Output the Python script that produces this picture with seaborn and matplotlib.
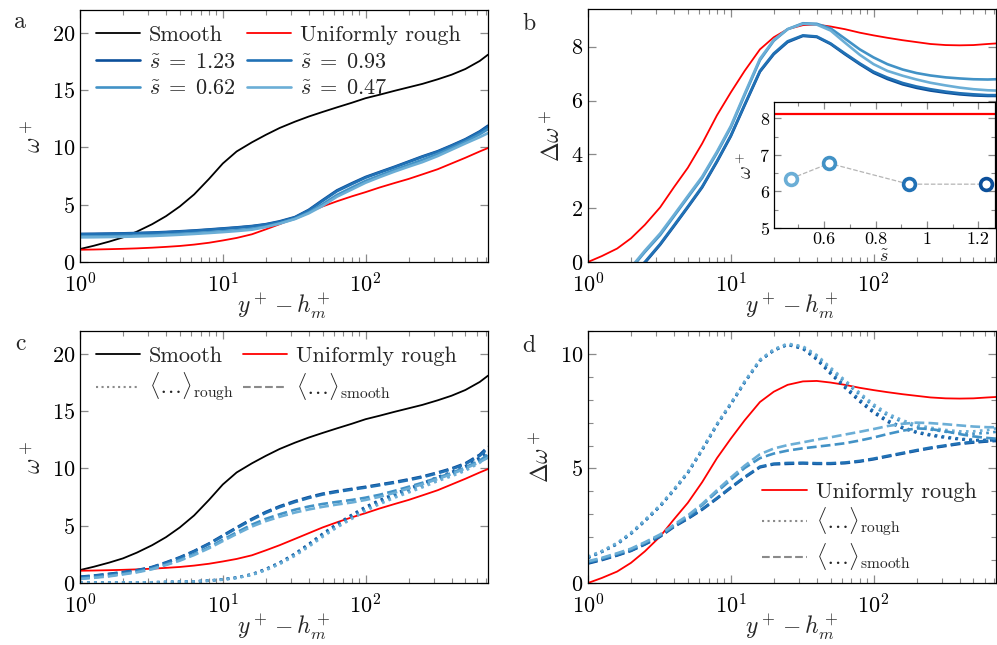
import matplotlib
matplotlib.use("Agg")
import matplotlib.pyplot as plt
import seaborn as sns
from matplotlib.lines import Line2D
from matplotlib.ticker import MultipleLocator, LogLocator, NullFormatter, FixedLocator

# ---------------- data ----------------
s_values = [1.23, 0.93, 0.62, 0.47]
s_labels = [r"$\tilde{s}\;=\;1.23$", r"$\tilde{s}\;=\;0.93$", r"$\tilde{s}\;=\;0.62$", r"$\tilde{s}\;=\;0.47$"]
s_colors = ["#0b4f9a", "#2171b5", "#4292c6", "#6baed6"]

# wall-normal positions y+ - h_m+
yp = [1, 1.25, 1.6, 2, 2.5, 3.2, 4, 5, 6.3, 8, 10, 12.5, 16, 20, 25, 32, 40, 50, 63, 80,
      100, 125, 160, 200, 250, 320, 400, 500, 630, 720]
yp_b = [2, 2.5, 3.2, 4, 5, 6.3, 8, 10, 12.5, 16, 20, 25, 32, 40, 50, 63, 80,
        100, 125, 160, 200, 250, 320, 400, 500, 630, 720]

# panel a / c : omega+ profiles
omega_smooth = [1.13, 1.42, 1.78, 2.15, 2.65, 3.3, 4.0, 4.85, 5.9, 7.25, 8.6, 9.65, 10.45, 11.1, 11.7, 12.25, 12.7, 13.1, 13.5, 13.9,
                14.3, 14.6, 14.95, 15.25, 15.55, 15.95, 16.35, 16.85, 17.55, 18.1]
omega_rough = [1.07, 1.09, 1.12, 1.15, 1.19, 1.25, 1.32, 1.4, 1.52, 1.68, 1.88, 2.1, 2.42, 2.85, 3.3, 3.85, 4.35, 4.85, 5.3, 5.73,
               6.1, 6.5, 6.9, 7.25, 7.65, 8.1, 8.6, 9.1, 9.65, 9.95]
omega_s123 = [2.45, 2.46, 2.48, 2.5, 2.53, 2.57, 2.62, 2.68, 2.75, 2.84, 2.93, 3.02, 3.14, 3.3, 3.55, 3.92, 4.55, 5.4, 6.25, 6.87,
              7.42, 7.85, 8.32, 8.77, 9.22, 9.67, 10.18, 10.72, 11.4, 11.9]
omega_s093 = [2.42, 2.43, 2.45, 2.47, 2.5, 2.54, 2.59, 2.65, 2.72, 2.81, 2.9, 2.99, 3.11, 3.27, 3.5, 3.88, 4.5, 5.33, 6.18, 6.8,
              7.36, 7.8, 8.27, 8.72, 9.17, 9.62, 10.13, 10.67, 11.33, 11.8]
omega_s062 = [2.22, 2.23, 2.25, 2.27, 2.3, 2.34, 2.39, 2.45, 2.52, 2.6, 2.68, 2.77, 2.9, 3.1, 3.38, 3.78, 4.33, 5.05, 5.85, 6.5,
              7.08, 7.55, 8.05, 8.48, 8.92, 9.43, 9.95, 10.5, 11.15, 11.6]
omega_s047 = [2.15, 2.16, 2.18, 2.2, 2.23, 2.27, 2.32, 2.38, 2.45, 2.53, 2.61, 2.7, 2.82, 3.05, 3.35, 3.75, 4.25, 4.9, 5.7, 6.33,
              6.92, 7.4, 7.9, 8.32, 8.72, 9.25, 9.8, 10.35, 10.9, 11.25]

# panel c : averages over smooth-wall and rough-wall regions
omega_smoothreg_s123 = [0.55, 0.65, 0.8, 0.95, 1.12, 1.4, 1.8, 2.25, 2.8, 3.45, 4.15, 4.85, 5.6, 6.2, 6.7, 7.15, 7.5, 7.8, 8.02, 8.22,
                        8.4, 8.6, 8.82, 9.05, 9.3, 9.65, 10.0, 10.45, 11.2, 11.9]
omega_smoothreg_s093 = [0.52, 0.62, 0.77, 0.92, 1.09, 1.37, 1.76, 2.2, 2.75, 3.4, 4.08, 4.78, 5.52, 6.12, 6.62, 7.07, 7.42, 7.72, 7.95, 8.15,
                        8.33, 8.53, 8.75, 8.98, 9.23, 9.58, 9.93, 10.38, 11.1, 11.75]
omega_smoothreg_s062 = [0.4, 0.5, 0.63, 0.8, 0.98, 1.25, 1.62, 2.02, 2.52, 3.12, 3.78, 4.42, 5.1, 5.6, 6.0, 6.4, 6.68, 6.9, 7.08, 7.25,
                        7.45, 7.7, 8.05, 8.4, 8.75, 9.2, 9.6, 10.1, 10.7, 11.2]
omega_smoothreg_s047 = [0.35, 0.45, 0.58, 0.75, 0.93, 1.2, 1.56, 1.95, 2.44, 3.03, 3.66, 4.28, 4.93, 5.4, 5.78, 6.15, 6.42, 6.65, 6.85, 7.03,
                        7.25, 7.52, 7.88, 8.25, 8.62, 9.08, 9.5, 10.0, 10.55, 10.95]
omega_roughreg_s123 = [0.02, 0.03, 0.03, 0.04, 0.05, 0.06, 0.08, 0.1, 0.14, 0.21, 0.32, 0.48, 0.77, 1.22, 1.78, 2.56, 3.4, 4.3, 5.15, 5.95,
                       6.65, 7.22, 7.8, 8.25, 8.7, 9.25, 9.68, 10.2, 10.95, 11.5]
omega_roughreg_s093 = [0.02, 0.03, 0.03, 0.04, 0.05, 0.06, 0.08, 0.1, 0.13, 0.21, 0.31, 0.46, 0.74, 1.19, 1.74, 2.5, 3.33, 4.22, 5.06, 5.85,
                       6.55, 7.12, 7.7, 8.15, 8.6, 9.15, 9.58, 10.08, 10.8, 11.35]
omega_roughreg_s062 = [0.02, 0.03, 0.03, 0.04, 0.05, 0.06, 0.08, 0.1, 0.13, 0.2, 0.3, 0.45, 0.72, 1.15, 1.69, 2.43, 3.24, 4.1, 4.93, 5.7,
                       6.4, 6.98, 7.55, 8.0, 8.45, 9.0, 9.43, 9.92, 10.62, 11.15]
omega_roughreg_s047 = [0.02, 0.03, 0.03, 0.04, 0.05, 0.06, 0.08, 0.1, 0.13, 0.2, 0.29, 0.44, 0.7, 1.12, 1.65, 2.38, 3.17, 4.03, 4.85, 5.6,
                       6.3, 6.88, 7.45, 7.9, 8.35, 8.9, 9.32, 9.8, 10.5, 11.0]

# panel b / d : Delta omega+
dw_rough = [0, 0.22, 0.5, 0.88, 1.38, 2.03, 2.78, 3.5, 4.4, 5.45, 6.3, 7.1, 7.9, 8.35, 8.65, 8.8, 8.82, 8.75, 8.65, 8.52,
            8.42, 8.33, 8.24, 8.17, 8.1, 8.06, 8.05, 8.06, 8.1, 8.12]
dw_s047 = [-0.2, 0.42, 1.06, 1.75, 2.45, 3.17, 4.1, 5.05, 6.25, 7.55, 8.25, 8.65, 8.85, 8.82, 8.6, 8.15, 7.7,
           7.35, 7.1, 6.92, 6.78, 6.66, 6.56, 6.48, 6.42, 6.38, 6.37]
dw_s062 = [-0.25, 0.37, 1.0, 1.7, 2.4, 3.12, 4.05, 5.0, 6.2, 7.5, 8.22, 8.65, 8.87, 8.85, 8.68, 8.3, 7.9,
           7.6, 7.35, 7.15, 7.02, 6.93, 6.86, 6.82, 6.79, 6.78, 6.79]
dw_s093 = [-0.5, 0.0, 0.67, 1.36, 2.06, 2.8, 3.75, 4.7, 5.85, 7.1, 7.75, 8.2, 8.42, 8.38, 8.12, 7.75, 7.38,
           7.07, 6.85, 6.65, 6.52, 6.42, 6.33, 6.27, 6.23, 6.2, 6.2]
dw_s123 = [-0.53, -0.03, 0.64, 1.33, 2.03, 2.77, 3.72, 4.67, 5.82, 7.07, 7.72, 8.17, 8.4, 8.36, 8.1, 7.72, 7.35,
           7.03, 6.8, 6.6, 6.47, 6.37, 6.29, 6.23, 6.19, 6.17, 6.17]

dw_roughreg_s047 = [1.15, 1.4, 1.75, 2.2, 2.75, 3.4, 4.1, 4.85, 5.85, 6.95, 7.85, 8.8, 9.75, 10.2, 10.45, 10.33, 9.95, 9.4, 8.85, 8.3,
                    7.8, 7.4, 7.1, 6.9, 6.78, 6.68, 6.62, 6.62, 6.68, 6.75]
dw_roughreg_s062 = [1.13, 1.38, 1.73, 2.18, 2.73, 3.38, 4.08, 4.83, 5.83, 6.93, 7.83, 8.78, 9.72, 10.18, 10.43, 10.3, 9.9, 9.33, 8.78, 8.22,
                    7.72, 7.32, 7.02, 6.82, 6.7, 6.6, 6.54, 6.52, 6.55, 6.6]
dw_roughreg_s093 = [1.1, 1.36, 1.7, 2.15, 2.7, 3.35, 4.05, 4.8, 5.8, 6.9, 7.8, 8.75, 9.7, 10.15, 10.4, 10.25, 9.8, 9.2, 8.6, 8.0,
                    7.5, 7.1, 6.8, 6.6, 6.48, 6.38, 6.3, 6.25, 6.25, 6.27]
dw_roughreg_s123 = [1.1, 1.36, 1.7, 2.15, 2.7, 3.35, 4.05, 4.8, 5.8, 6.9, 7.8, 8.75, 9.7, 10.15, 10.4, 10.22, 9.75, 9.13, 8.52, 7.92,
                    7.43, 7.04, 6.75, 6.56, 6.44, 6.34, 6.27, 6.23, 6.22, 6.24]
dw_smoothreg_s047 = [0.95, 1.1, 1.3, 1.5, 1.78, 2.12, 2.55, 2.95, 3.45, 4.05, 4.6, 5.12, 5.62, 5.87, 6.02, 6.14, 6.26, 6.36, 6.48, 6.6,
                     6.72, 6.85, 6.95, 7.0, 6.98, 6.93, 6.88, 6.83, 6.8, 6.8]
dw_smoothreg_s062 = [0.92, 1.07, 1.27, 1.47, 1.75, 2.08, 2.5, 2.9, 3.4, 3.98, 4.5, 5.02, 5.45, 5.65, 5.78, 5.88, 5.95, 6.02, 6.1, 6.22,
                     6.35, 6.5, 6.65, 6.75, 6.72, 6.62, 6.5, 6.4, 6.33, 6.3]
dw_smoothreg_s093 = [0.88, 1.03, 1.22, 1.42, 1.7, 2.05, 2.48, 2.83, 3.23, 3.71, 4.18, 4.63, 5.08, 5.21, 5.24, 5.25, 5.23, 5.23, 5.26, 5.33,
                     5.43, 5.55, 5.68, 5.8, 5.91, 6.01, 6.1, 6.16, 6.21, 6.23]
dw_smoothreg_s123 = [0.85, 1.0, 1.2, 1.4, 1.68, 2.02, 2.45, 2.8, 3.2, 3.68, 4.15, 4.6, 5.05, 5.18, 5.2, 5.22, 5.2, 5.2, 5.23, 5.3,
                     5.4, 5.52, 5.65, 5.77, 5.88, 5.98, 6.07, 6.13, 6.18, 6.2]

# inset : outer-region Delta omega+ vs s
inset_s = [0.47, 0.62, 0.93, 1.23]
inset_dw = [6.35, 6.77, 6.2, 6.2]
inset_colors = ["#6baed6", "#4292c6", "#2171b5", "#0b4f9a"]
inset_rough_level = 8.12

# ---------------- style ----------------
sns.set_theme(style="ticks")
plt.rcParams.update({
    "font.family": "serif",
    "font.serif": ["cmr10"],
    "mathtext.fontset": "cm",
    "axes.formatter.use_mathtext": True,
    "axes.unicode_minus": False,
    "axes.edgecolor": "black",
    "axes.linewidth": 0.9,
    "font.size": 16,
})

W, H = 997, 645
fig = plt.figure(figsize=(W / 100, H / 100), dpi=100)


def box(l, t, r, b):
    return [l / W, 1 - b / H, (r - l) / W, (b - t) / H]


ax_a = fig.add_axes(box(80, 10, 488, 262))
ax_b = fig.add_axes(box(588, 9, 996, 262))
ax_c = fig.add_axes(box(80, 331, 488, 583))
ax_d = fig.add_axes(box(588, 331, 996, 583))
ax_in = fig.add_axes(box(774, 102, 995, 228))


def line(ax, x, y, color, ls="-", lw=1.4):
    sns.lineplot(x=x, y=y, ax=ax, color=color, linestyle=ls, linewidth=lw,
                 estimator=None, sort=False, legend=False)


def style_log(ax, ylim, ymaj, ymin=None):
    ax.set_xscale("log")
    ax.set_xlim(1, 720)
    ax.set_ylim(*ylim)
    ax.yaxis.set_major_locator(MultipleLocator(ymaj))
    if ymin:
        ax.yaxis.set_minor_locator(MultipleLocator(ymin))
    else:
        ax.yaxis.set_minor_locator(FixedLocator([]))
    ax.xaxis.set_major_locator(LogLocator(base=10, numticks=10))
    ax.xaxis.set_minor_locator(LogLocator(base=10, subs=range(2, 10), numticks=20))
    ax.xaxis.set_minor_formatter(NullFormatter())
    ax.tick_params(which="both", direction="in", top=True, right=True,
                   color="#8a8a8a", labelsize=16, labelcolor="black")
    ax.tick_params(which="major", length=6, width=0.9)
    ax.tick_params(which="minor", length=3.5, width=0.8)
    ax.tick_params(axis="x", which="major", pad=7.5)
    ax.set_xlabel(r"$y^+ - h_m^+$", fontsize=17, labelpad=-4)
    for sp in ax.spines.values():
        sp.set_visible(True)
        sp.set_color("black")


leg_kw = dict(frameon=False, fontsize=16, handlelength=2.0, handletextpad=0.4)

# ---- panel a ----
line(ax_a, yp, omega_smooth, "black", lw=1.3)
line(ax_a, yp, omega_rough, "red", lw=1.3)
for arr, c in zip([omega_s123, omega_s093, omega_s062, omega_s047], s_colors):
    line(ax_a, yp, arr, c, lw=1.9)
style_log(ax_a, (0, 22), 5)
ax_a.set_ylabel(r"$\omega^+$", fontsize=17)

h_smooth = Line2D([], [], color="black", lw=1.3)
h_rough = Line2D([], [], color="red", lw=1.3)
h_s = [Line2D([], [], color=c, lw=1.9) for c in s_colors]
ax_a.legend([h_smooth, h_s[0], h_s[2], h_rough, h_s[1], h_s[3]],
            ["Smooth", s_labels[0], s_labels[2], "Uniformly rough", s_labels[1], s_labels[3]],
            ncol=2, loc="upper left", bbox_to_anchor=(0.0, 1.0), columnspacing=0.5,
            labelspacing=0.32, borderaxespad=0.3, **leg_kw)

# ---- panel b ----
line(ax_b, yp, dw_rough, "red", lw=1.3)
for arr, c in zip([dw_s123, dw_s093, dw_s062, dw_s047], s_colors):
    line(ax_b, yp_b, arr, c, lw=1.9)
style_log(ax_b, (0, 9.4), 2)
ax_b.set_ylabel(r"$\Delta\omega^+$", fontsize=17)

# ---- inset ----
sns.lineplot(x=inset_s, y=inset_dw, ax=ax_in, color="#b5b5b5", linestyle="--",
             linewidth=0.9, estimator=None, sort=False, legend=False)
ax_in.axhline(inset_rough_level, color="red", lw=1.6)
for sv, dv, c in zip(inset_s, inset_dw, inset_colors):
    sns.lineplot(x=[sv], y=[dv], ax=ax_in, marker="o", markersize=8.5,
                 markerfacecolor="white", markeredgecolor=c, markeredgewidth=2.6,
                 linestyle="", estimator=None, legend=False, color=c)
ax_in.set_xlim(0.405, 1.265)
ax_in.set_ylim(5, 8.45)
ax_in.xaxis.set_major_locator(FixedLocator([0.6, 0.8, 1.0, 1.2]))
ax_in.xaxis.set_minor_locator(MultipleLocator(0.1))
ax_in.yaxis.set_major_locator(MultipleLocator(1))
ax_in.yaxis.set_minor_locator(MultipleLocator(0.5))
ax_in.set_xticklabels(["0.6", "0.8", "1", "1.2"])
ax_in.tick_params(which="both", direction="in", top=True, right=True,
                  color="#8a8a8a", labelsize=13, labelcolor="black")
ax_in.tick_params(which="major", length=5, width=0.9, pad=3)
ax_in.tick_params(which="minor", length=3, width=0.8)
ax_in.set_xlabel(r"$\tilde{s}$", fontsize=13, labelpad=1)
ax_in.set_ylabel(r"$\omega^+$", fontsize=14, labelpad=2)
ax_in.set_facecolor("white")
for sp in ax_in.spines.values():
    sp.set_visible(True)
    sp.set_color("black")

# ---- panel c ----
line(ax_c, yp, omega_smooth, "black", lw=1.3)
line(ax_c, yp, omega_rough, "red", lw=1.3)
for arr, c in zip([omega_roughreg_s123, omega_roughreg_s093, omega_roughreg_s062, omega_roughreg_s047], s_colors):
    line(ax_c, yp, arr, c, ls=":", lw=1.9)
for arr, c in zip([omega_smoothreg_s123, omega_smoothreg_s093, omega_smoothreg_s062, omega_smoothreg_s047], s_colors):
    line(ax_c, yp, arr, c, ls="--", lw=1.9)
style_log(ax_c, (0, 22), 5)
ax_c.set_ylabel(r"$\omega^+$", fontsize=17)

lab_r = r"$\langle\ldots\rangle_{\mathrm{rough}}$"
lab_s = r"$\langle\ldots\rangle_{\mathrm{smooth}}$"
h_dot = Line2D([], [], color="#8a8a8a", lw=1.5, ls=":")
h_dash = Line2D([], [], color="#8a8a8a", lw=1.5, ls="--")
ax_c.legend([h_smooth, h_dot, h_rough, h_dash], ["Smooth", lab_r, "Uniformly rough", lab_s],
            ncol=2, loc="upper left", bbox_to_anchor=(0.0, 1.0), columnspacing=0.4,
            labelspacing=0.2, borderaxespad=0.3, **leg_kw)

# ---- panel d ----
line(ax_d, yp, dw_rough, "red", lw=1.3)
for arr, c in zip([dw_roughreg_s123, dw_roughreg_s093, dw_roughreg_s062, dw_roughreg_s047], s_colors):
    line(ax_d, yp, arr, c, ls=":", lw=1.9)
for arr, c in zip([dw_smoothreg_s123, dw_smoothreg_s093, dw_smoothreg_s062, dw_smoothreg_s047], s_colors):
    line(ax_d, yp, arr, c, ls="--", lw=1.9)
style_log(ax_d, (0, 11), 5, 1)
ax_d.set_ylabel(r"$\Delta\omega^+$", fontsize=17)
ax_d.legend([h_rough, h_dot, h_dash], ["Uniformly rough", lab_r, lab_s],
            loc="lower right", bbox_to_anchor=(0.985, -0.01), labelspacing=0.15,
            borderaxespad=0.2, **leg_kw)

# panel letters
for txt, (px, py) in zip("abcd", [(20, 22), (529, 24), (20, 344), (529, 346)]):
    fig.text(px / W, 1 - py / H, txt, fontsize=17, ha="center", va="center")

fig.savefig("out.png", dpi=100)
